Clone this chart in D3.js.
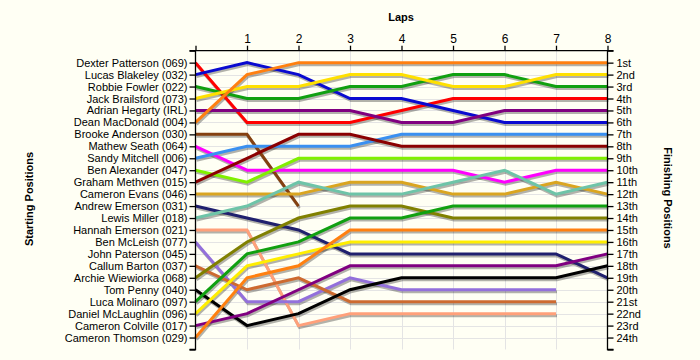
<!DOCTYPE html>
<html><head><meta charset="utf-8">
<script src="https://cdn.jsdelivr.net/npm/d3@7"></script>
<style>
html,body{margin:0;padding:0;background:#fffff4;}
svg{display:block;}
text{font-family:"Liberation Sans",Arial,sans-serif;}
</style></head><body>
<script>
const drivers = ["Dexter Patterson (069)","Lucas Blakeley (032)","Robbie Fowler (022)","Jack Brailsford (073)","Adrian Hegarty (IRL)","Dean MacDonald (004)","Brooke Anderson (030)","Mathew Seath (064)","Sandy Mitchell (006)","Ben Alexander (047)","Graham Methven (015)","Cameron Evans (046)","Andrew Emerson (031)","Lewis Miller (018)","Hannah Emerson (021)","Ben McLeish (077)","John Paterson (045)","Callum Barton (037)","Archie Wiewiorka (068)","Tom Penny (040)","Luca Molinaro (097)","Daniel McLaughlin (096)","Cameron Colville (017)","Cameron Thomson (029)"];
const finishLabels = ["1st","2nd","3rd","4th","5th","6th","7th","8th","9th","10th","11th","12th","13th","14th","15th","16th","17th","18th","19th","20th","21st","22nd","23rd","24th"];
const laps = [0,1,2,3,4,5,6,7,8];
const colors = ["#ff0000","#0a0ad0","#10a010","#ffe000","#800080","#ff8010","#844010","#ff00ff","#3a90f0","#80f000","#8b0000","#daa520","#20206e","#6ec4a8","#ffa07a","#9370db",null,"#cd6a30","#808000","#000000","#10a010","#ffee00","#800080","#ff8010"];
// positions at laps 0..8 (null = not running)
const positions = [
 [1,6,6,6,5,4,4,4,4],
 [2,1,2,4,4,5,6,6,6],
 [3,4,4,3,3,2,2,3,3],
 [4,3,3,2,2,3,3,2,2],
 [5,5,5,5,6,6,5,5,5],
 [6,2,1,1,1,1,1,1,1],
 [7,7,13,null,null,null,null,null,null],
 [8,10,10,10,10,10,11,10,10],
 [9,8,8,8,7,7,7,7,7],
 [10,11,9,9,9,9,9,9,9],
 [11,9,7,7,8,8,8,8,8],
 [12,12,12,11,11,12,12,11,12],
 [13,14,15,17,17,17,17,17,19],
 [14,13,11,12,12,11,10,12,11],
 [15,15,23,22,22,22,22,22,null],
 [16,21,21,19,20,20,20,20,null],
 [null,null,null,null,null,null,null,null,null],
 [18,20,19,21,21,21,21,21,null],
 [19,16,14,13,13,14,14,14,14],
 [20,23,22,20,19,19,19,19,18],
 [21,17,16,14,14,13,13,13,13],
 [22,18,17,16,16,16,16,16,16],
 [23,22,20,18,18,18,18,18,17],
 [24,19,18,15,15,15,15,15,15]
];

const W=700,H=360;
const svg=d3.select("body").append("svg").attr("width",W).attr("height",H);
svg.append("rect").attr("width",W).attr("height",H).attr("fill","#fffff4");
const x=d3.scaleLinear().domain([0,8]).range([195.5,607.5]);
const y=d3.scaleLinear().domain([0,25]).range([50.7,349.5]);

// grid
const g=svg.append("g");
g.selectAll(".hg").data(d3.range(1,25)).join("line")
 .attr("x1",x(0)).attr("x2",x(8)).attr("y1",d=>Math.round(y(d))+0.5).attr("y2",d=>Math.round(y(d))+0.5)
 .attr("stroke","#e4e4e4").attr("stroke-width",1);
g.selectAll(".vg").data(d3.range(1,8)).join("line")
 .attr("y1",y(0)).attr("y2",y(25)).attr("x1",d=>Math.round(x(d))+0.5).attr("x2",d=>Math.round(x(d))+0.5)
 .attr("stroke","#e4e4e4").attr("stroke-width",1);

const line=d3.line().defined(d=>d[1]!=null).x(d=>x(d[0])).y(d=>y(d[1]));
const series=positions.map((p,i)=>({c:colors[i],pts:laps.map((l,j)=>[l,p[j]])})).filter(s=>s.c);
// shadows
svg.append("g").selectAll("path").data(series).join("path")
 .attr("d",d=>line(d.pts)).attr("fill","none").attr("stroke","#000").attr("stroke-opacity",0.3)
 .attr("stroke-width",3).attr("transform","translate(1,2)");
svg.append("g").selectAll("path").data(series).join("path")
 .attr("d",d=>line(d.pts)).attr("fill","none").attr("stroke",d=>d.c)
 .attr("stroke-width",3);

// axes
const fs="11px";
const leftAx=svg.append("g").attr("transform",`translate(${x(0)},0)`)
 .call(d3.axisLeft(y).tickValues(d3.range(0,26)).tickSize(6).tickPadding(2).tickFormat(d=>drivers[d-1]||""));
const rightAx=svg.append("g").attr("transform",`translate(${x(8)},0)`)
 .call(d3.axisRight(y).tickValues(d3.range(0,26)).tickSize(6).tickPadding(3).tickFormat(d=>finishLabels[d-1]||""));
const topAx=svg.append("g").attr("transform",`translate(0,${y(0)})`)
 .call(d3.axisTop(x).tickValues(laps).tickSize(5).tickPadding(3).tickFormat(d=>d===0?"":d));
[leftAx,rightAx,topAx].forEach(a=>{a.selectAll("text").attr("font-size",fs).attr("fill","#000").attr("font-family","'Liberation Sans',Arial,sans-serif");
 a.selectAll("line,path").attr("stroke","#000").attr("stroke-width",1.3);});
topAx.selectAll("text").attr("font-size","12px");
leftAx.select(".domain").attr("d",`M-6,${y(0)}H0V${y(25)}H-6`);
rightAx.select(".domain").attr("d",`M6,${y(0)}H0V${y(25)}H6`);
topAx.select(".domain").attr("d",`M${x(0)},0H${x(8)}`);

svg.append("text").attr("x",401).attr("y",21).attr("text-anchor","middle").attr("font-weight","bold").attr("font-size","11px").text("Laps");
svg.append("text").attr("transform","translate(33,199) rotate(-90)").attr("text-anchor","middle").attr("font-weight","bold").attr("font-size","11px").text("Starting Positions");
svg.append("text").attr("transform","translate(664,198) rotate(90)").attr("text-anchor","middle").attr("font-weight","bold").attr("font-size","11px").text("Finishing Positions");
</script>
</body></html>
